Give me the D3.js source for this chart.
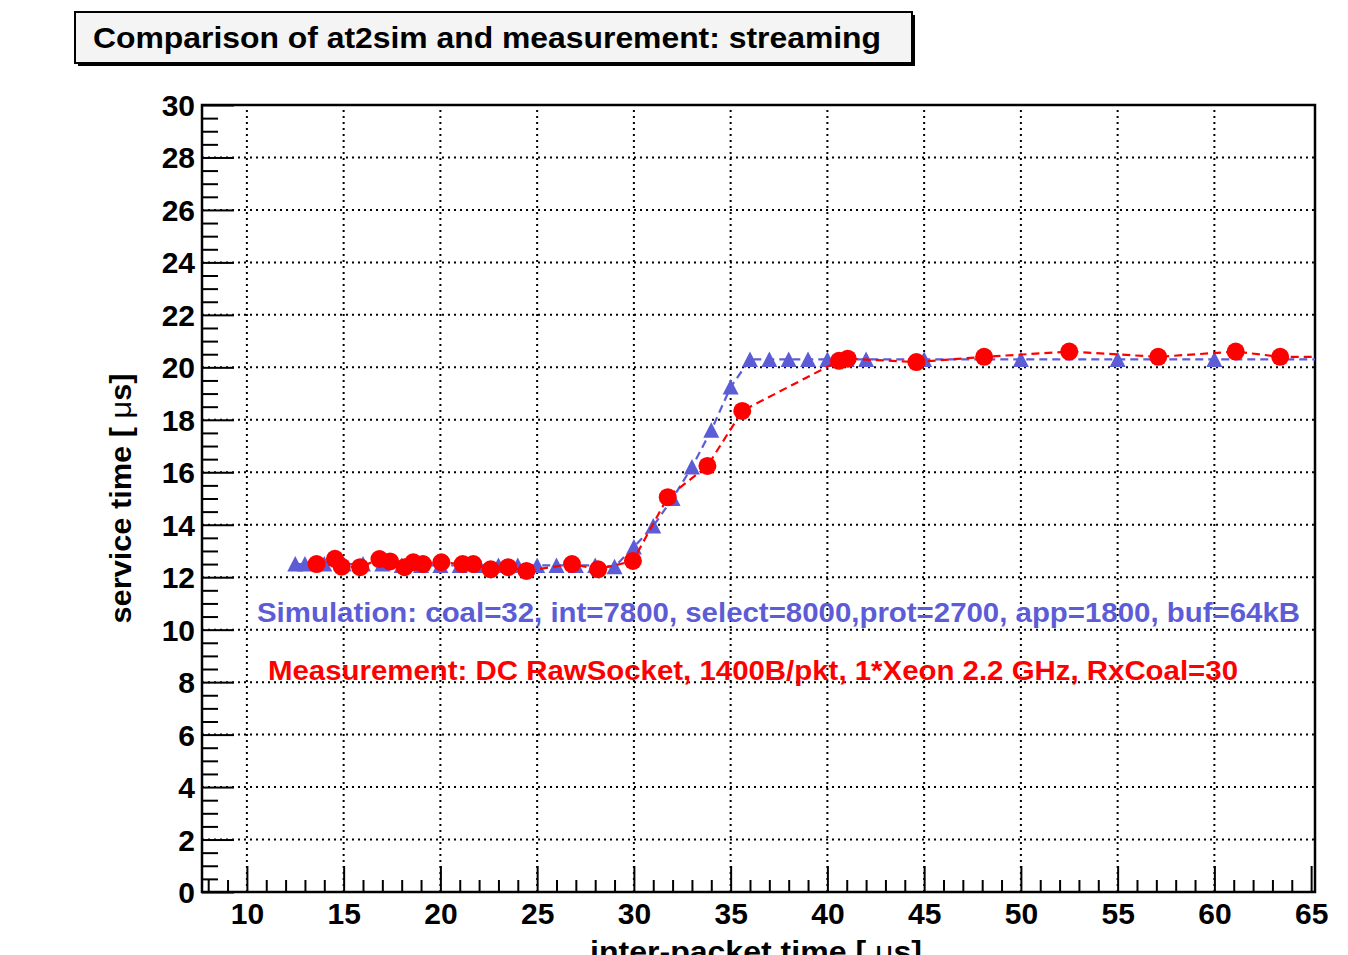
<!DOCTYPE html>
<html lang="en">
<head>
<meta charset="UTF-8">
<title>at2sim vs measurement</title>
<script src="https://cdn.jsdelivr.net/npm/d3@7"></script>
<style>
    body { margin: 0; background: #fff; }
    text { font-family: "Liberation Sans", Arial, Helvetica, sans-serif; font-weight: bold; }
</style>
</head>
<body>
<svg id="chart"></svg>
<script>
    // Simulation (blue triangles)
    var simX = [12.5, 13, 14, 15, 16, 17, 18, 19, 20, 21, 22, 23, 24, 25, 26, 27, 28, 29,
        30, 31, 32, 33, 34, 35, 36, 37, 38, 39, 40, 41, 42, 45, 50, 55, 60, 70];
    var simY = [12.5, 12.5, 12.5, 12.5, 12.5, 12.5, 12.45, 12.45, 12.45, 12.45, 12.45, 12.45, 12.45, 12.45, 12.45, 12.45, 12.45, 12.4,
        13.15, 13.95, 15.0, 16.2, 17.6, 19.25, 20.3, 20.3, 20.3, 20.3, 20.3, 20.3, 20.3, 20.3, 20.3, 20.3, 20.3, 20.3];

    // Measurement (red circles)
    var measX = [13.6, 14.55, 14.9, 15.85, 16.85, 17.4, 18.15, 18.6, 19.1, 20.05, 21.15, 21.7, 22.6, 23.5, 24.45,
        26.8, 28.15, 29.95, 31.75, 33.8, 35.6, 40.6, 41.05, 44.6, 48.1, 52.5, 57.1, 61.1, 63.4, 68];
    var measY = [12.5, 12.7, 12.4, 12.38, 12.69, 12.6, 12.38, 12.57, 12.5, 12.57, 12.5, 12.5, 12.3, 12.38, 12.24,
        12.5, 12.3, 12.62, 15.05, 16.24, 18.34, 20.25, 20.33, 20.2, 20.4, 20.6, 20.4, 20.6, 20.4, 20.4];

    var xMajor = [10, 15, 20, 25, 30, 35, 40, 45, 50, 55, 60, 65];
    var yMajor = [0, 2, 4, 6, 8, 10, 12, 14, 16, 18, 20, 22, 24, 26, 28, 30];

    var title = "Comparison of at2sim and measurement: streaming";
    var simLabel = "Simulation: coal=32, int=7800, select=8000,prot=2700, app=1800, buf=64kB";
    var measLabel = "Measurement: DC RawSocket, 1400B/pkt, 1*Xeon 2.2 GHz, RxCoal=30";

    var W = 1348, H = 955;
    var frame = { left: 202, right: 1315, top: 105, bottom: 892 };
    var blue = "#5c5cd6", red = "#ff0000";

    var svg = d3.select("#chart").attr("width", W).attr("height", H);

    var x = d3.scaleLinear().domain([7.68, 65.2]).range([frame.left, frame.right]);
    var y = d3.scaleLinear().domain([0, 30]).range([frame.bottom, frame.top]);

    // Title box with shadow
    svg.append("rect").attr("x", 78).attr("y", 15).attr("width", 837).attr("height", 51).attr("fill", "#000");
    svg.append("rect").attr("x", 75).attr("y", 12).attr("width", 837).attr("height", 51)
        .attr("fill", "#f4f4f4").attr("stroke", "#000").attr("stroke-width", 2);
    svg.append("text").attr("x", 93).attr("y", 48).attr("font-size", 30)
        .attr("textLength", 788).attr("lengthAdjust", "spacingAndGlyphs").text(title);

    // Grid
    var grid = svg.append("g").attr("stroke", "#000").attr("stroke-width", 2).attr("stroke-dasharray", "2,4");
    grid.selectAll(".gx").data(xMajor.filter(d => d < 65)).enter().append("line")
        .attr("x1", d => x(d)).attr("x2", d => x(d)).attr("y1", frame.bottom).attr("y2", frame.top);
    grid.selectAll(".gy").data(yMajor.filter(d => d > 0 && d < 30)).enter().append("line")
        .attr("y1", d => y(d)).attr("y2", d => y(d)).attr("x1", frame.left).attr("x2", frame.right);

    // Axes
    var xAxis = svg.append("g").attr("transform", "translate(0," + frame.bottom + ")")
        .call(d3.axisBottom(x).tickValues(xMajor).tickSize(-26).tickPadding(8).tickFormat(d3.format("d")));
    svg.append("g").attr("transform", "translate(0," + frame.bottom + ")")
        .call(d3.axisBottom(x).tickValues(d3.range(8, 66).filter(d => d % 5 !== 0)).tickSize(-12).tickFormat(""));
    var yAxis = svg.append("g").attr("transform", "translate(" + frame.left + ",0)")
        .call(d3.axisLeft(y).tickValues(yMajor).tickSize(-32).tickPadding(7).tickFormat(d3.format("d")));
    svg.append("g").attr("transform", "translate(" + frame.left + ",0)")
        .call(d3.axisLeft(y).tickValues(d3.range(0, 30.01, 0.5).filter(d => d % 2 !== 0)).tickSize(-16).tickFormat(""));

    svg.selectAll(".domain").remove();
    svg.selectAll(".tick line").attr("stroke", "#000").attr("stroke-width", 2);
    xAxis.selectAll("text").attr("font-size", 30).attr("font-family", "Liberation Sans").attr("font-weight", "bold")
        .attr("fill", "#000").attr("dy", "0.8em");
    yAxis.selectAll("text").attr("font-size", 30).attr("font-family", "Liberation Sans").attr("font-weight", "bold")
        .attr("fill", "#000").attr("dy", "0.35em");

    // Frame
    svg.append("rect").attr("x", frame.left).attr("y", frame.top)
        .attr("width", frame.right - frame.left).attr("height", frame.bottom - frame.top)
        .attr("fill", "none").attr("stroke", "#000").attr("stroke-width", 2.5);

    // Axis titles
    var yTitle = svg.append("text").attr("text-anchor", "middle")
        .attr("transform", "translate(131," + ((frame.top + frame.bottom) / 2) + ") rotate(-90)")
        .attr("font-size", 29).attr("textLength", 250).attr("lengthAdjust", "spacingAndGlyphs");
    yTitle.append("tspan").text("service time [ ");
    yTitle.append("tspan").attr("font-weight", "normal").text("\u03bc");
    yTitle.append("tspan").text("s]");

    var xTitle = svg.append("text").attr("text-anchor", "middle").attr("x", 756).attr("y", 962)
        .attr("font-size", 29).attr("textLength", 332).attr("lengthAdjust", "spacingAndGlyphs");
    xTitle.append("tspan").text("inter-packet time [ ");
    xTitle.append("tspan").attr("font-weight", "normal").text("\u03bc");
    xTitle.append("tspan").text("s]");

    // Data
    svg.append("clipPath").attr("id", "clip").append("rect")
        .attr("x", frame.left).attr("y", frame.top)
        .attr("width", frame.right - frame.left).attr("height", frame.bottom - frame.top);
    var plot = svg.append("g").attr("clip-path", "url(#clip)");

    var sim = simX.map((d, i) => ({ x: d, y: simY[i] }));
    var meas = measX.map((d, i) => ({ x: d, y: measY[i] }));
    var line = d3.line().x(d => x(d.x)).y(d => y(d.y));

    plot.append("path").datum(sim).attr("d", line).attr("fill", "none")
        .attr("stroke", blue).attr("stroke-width", 2.2).attr("stroke-dasharray", "8,5");
    plot.selectAll(".tri").data(sim).enter().append("path")
        .attr("d", "M0,-8L8,7.5L-8,7.5Z")
        .attr("transform", d => "translate(" + x(d.x) + "," + y(d.y) + ")")
        .attr("fill", blue);

    plot.append("path").datum(meas).attr("d", line).attr("fill", "none")
        .attr("stroke", red).attr("stroke-width", 2.2).attr("stroke-dasharray", "8,5");
    plot.selectAll(".dot").data(meas).enter().append("circle")
        .attr("cx", d => x(d.x)).attr("cy", d => y(d.y)).attr("r", 9)
        .attr("fill", red);

    // Legend texts
    svg.append("text").attr("x", 257).attr("y", 622).attr("font-size", 27.5).attr("fill", blue)
        .attr("textLength", 1043).attr("lengthAdjust", "spacingAndGlyphs").text(simLabel);
    svg.append("text").attr("x", 268).attr("y", 680).attr("font-size", 27.5).attr("fill", red)
        .attr("textLength", 970).attr("lengthAdjust", "spacingAndGlyphs").text(measLabel);
</script>
</body>
</html>
